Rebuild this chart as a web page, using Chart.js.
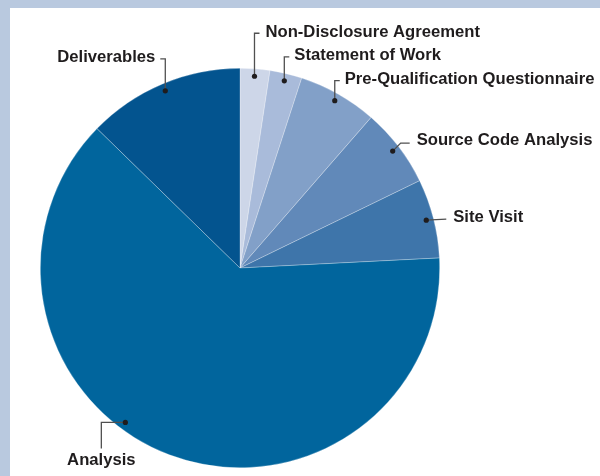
<!DOCTYPE html>
<html>
<head>
<meta charset="utf-8">
<script src="https://cdn.jsdelivr.net/npm/chart.js@4"></script>
<style>
  html, body { margin: 0; padding: 0; background: #b9c9df; }
  #wrap { position: absolute; left: 10px; top: 8px; width: 590px; height: 468px; background: #fff; }
  canvas { display: block; }
</style>
</head>
<body>
<div id="wrap"><canvas id="pie" width="590" height="468"></canvas></div>
<script>
// slices, clockwise from 12 o'clock
const categories = ['Non-Disclosure Agreement', 'Statement of Work', 'Pre-Qualification Questionnaire',
                    'Source Code Analysis', 'Site Visit', 'Analysis', 'Deliverables'];
const shares = [2.4, 2.6, 6.4, 6.4, 6.4, 63.1, 12.7];
const colors = ['#cdd6e8', '#a9bbda', '#82a0c8', '#6189b9', '#3e75aa', '#01659d', '#03548f'];

// leader layout per slice: where the dot sits (fraction along slice), the elbow path and the text anchor
const leaders = [
  { at: 0.5,  path: [[0, -43], [5, -43]],  text: [11, -44], align: 'left' },
  { at: 0.5,  path: [[0, -24], [5, -24]],  text: [10, -25], align: 'left' },
  { at: 0.5,  path: [[0, -20], [5, -20]],  text: [10, -21], align: 'left' },
  { at: 0.5,  path: [[8, -8], [17, -8]],   text: [24, -10], align: 'left' },
  { at: 0.5,  path: [[20, -1]],            text: [27, -3],  align: 'left' },
  { at: 0.57, path: [[-24, 0], [-24, 26]], text: [-24, 38], align: 'center' },
  { at: 0.5,  path: [[0, -32], [-5, -32]], text: [-10, -33], align: 'right' }
];

const leaderPlugin = {
  id: 'leaders',
  afterDatasetsDraw(chart) {
    const ctx = chart.ctx;
    const arcs = chart.getDatasetMeta(0).data;
    ctx.save();
    arcs.forEach((arc, i) => {
      const L = leaders[i];
      const a = arc.startAngle + (arc.endAngle - arc.startAngle) * L.at;
      const r = arc.outerRadius * 0.963;
      const x = arc.x + Math.cos(a) * r;
      const y = arc.y + Math.sin(a) * r;

      ctx.strokeStyle = '#505050';
      ctx.lineWidth = 1.3;
      ctx.beginPath();
      ctx.moveTo(x, y);
      L.path.forEach(p => ctx.lineTo(x + p[0], y + p[1]));
      ctx.stroke();

      ctx.fillStyle = '#1f1c1d';
      ctx.beginPath();
      ctx.arc(x, y, 2.6, 0, Math.PI * 2);
      ctx.fill();

      // label text, slightly widened to match the original face
      ctx.save();
      ctx.translate(x + L.text[0], y + L.text[1]);
      ctx.scale(1.04, 1);
      ctx.font = 'bold 16px "Liberation Sans", Arial, sans-serif';
      ctx.textAlign = L.align;
      ctx.textBaseline = 'middle';
      ctx.fillText(categories[i], 0, 0);
      ctx.restore();
    });
    ctx.restore();
  }
};

new Chart(document.getElementById('pie').getContext('2d'), {
  type: 'pie',
  data: {
    labels: categories,
    datasets: [{
      data: shares,
      backgroundColor: colors,
      borderColor: 'rgba(255,255,255,0.45)',
      borderWidth: 0.6
    }]
  },
  options: {
    responsive: false,
    animation: false,
    layout: { padding: { left: 10, right: 140, top: 60, bottom: 8 } },
    plugins: {
      legend: { display: false },
      tooltip: { enabled: false }
    }
  },
  plugins: [leaderPlugin]
});
</script>
</body>
</html>
